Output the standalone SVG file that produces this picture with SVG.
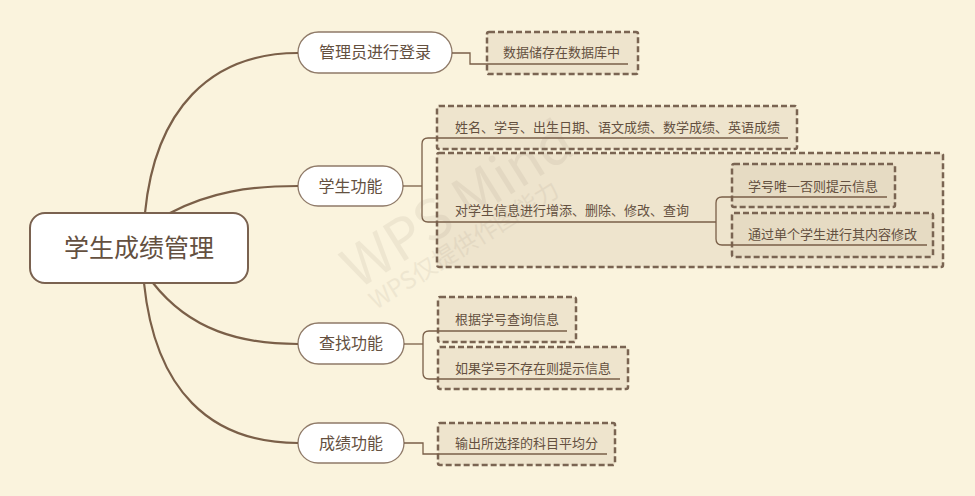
<svg xmlns="http://www.w3.org/2000/svg" width="975" height="496" viewBox="0 0 975 496">
<defs>
<style>
.bg{fill:#FAF3DD}
.root{fill:#fff;stroke:#7a6250;stroke-width:2}
.l1{fill:#fff;stroke:#8f7a68;stroke-width:1.3}
.box{fill:#EEE4CD;stroke:#7a6452;stroke-width:2.5;stroke-dasharray:6 3}
.sub{fill:#E6DBC3;stroke:#7a6452;stroke-width:2.5;stroke-dasharray:6 3}
.main{fill:none;stroke:#7a5f48;stroke-width:2.2}
.thin{fill:none;stroke:#7a5f48;stroke-width:1.3}
text{font-family:"Noto Sans CJK SC","Noto Sans",sans-serif;fill:#64503f}
.t0{font-size:25px;text-anchor:middle}
.t1{font-size:16px;text-anchor:middle}
.t2{font-size:13px}
.wm{fill:#8a7a6a;opacity:0.1}
</style>
</defs>
<rect class="bg" x="0" y="0" width="975" height="496"/>
<g id="root">
<rect class="root" x="30" y="213" width="218" height="70" rx="15"/>
<text class="t0" x="139" y="257">学生成绩管理</text>
</g>
<g id="n-admin">
<rect class="l1" x="298" y="32" width="154" height="41" rx="20.5"/>
<text class="t1" x="375" y="58">管理员进行登录</text>
</g>
<g id="n-db">
<rect class="box" x="487" y="32" width="151" height="42" rx="2"/>
<text class="t2" x="503" y="57">数据储存在数据库中</text>
</g>
<g id="n-student">
<rect class="l1" x="298" y="166" width="105" height="40" rx="20"/>
<text class="t1" x="350.5" y="192">学生功能</text>
</g>
<g id="n-fields">
<rect class="box" x="437" y="106" width="360" height="43" rx="2"/>
<text class="t2" x="455" y="132">姓名、学号、出生日期、语文成绩、数学成绩、英语成绩</text>
</g>
<g id="n-crud">
<rect class="box" x="437" y="153" width="506" height="114" rx="2"/>
<text class="t2" x="455" y="215">对学生信息进行增添、删除、修改、查询</text>
</g>
<g id="n-unique">
<rect class="sub" x="732" y="164" width="163" height="43" rx="2"/>
<text class="t2" x="748" y="191">学号唯一否则提示信息</text>
</g>
<g id="n-modify">
<rect class="sub" x="732" y="213" width="201" height="44" rx="2"/>
<text class="t2" x="748" y="239">通过单个学生进行其内容修改</text>
</g>
<g id="n-search">
<rect class="l1" x="298" y="323" width="106" height="41" rx="20.5"/>
<text class="t1" x="351" y="349">查找功能</text>
</g>
<g id="n-query">
<rect class="box" x="438" y="297" width="138" height="45" rx="2"/>
<text class="t2" x="455" y="324">根据学号查询信息</text>
</g>
<g id="n-notexist">
<rect class="box" x="438" y="347" width="190" height="42" rx="2"/>
<text class="t2" x="455" y="373">如果学号不存在则提示信息</text>
</g>
<g id="n-score">
<rect class="l1" x="298" y="423" width="106" height="40" rx="20"/>
<text class="t1" x="351" y="449">成绩功能</text>
</g>
<g id="n-avg">
<rect class="box" x="438" y="423" width="177" height="42" rx="2"/>
<text class="t2" x="455" y="448">输出所选择的科目平均分</text>
</g>
<g id="connectors">
<path class="main" d="M145,213 C155,110 210,53 298,53"/>
<path class="main" d="M170,213 C210,192 250,186 298,186"/>
<path class="main" d="M153,283 C190,330 240,344 298,344"/>
<path class="main" d="M144,283 C155,390 210,443 298,443"/>
<path class="thin" d="M452,53 H470 V64 H628"/>
<path class="thin" d="M403,186 H422"/>
<path class="thin" d="M788,138 H428 Q422,138 422,144 V216 Q422,222 428,222 H716"/>
<path class="thin" d="M887,197 H722 Q716,197 716,203 V239 Q716,245 722,245 H927"/>
<path class="thin" d="M404,344 H423"/>
<path class="thin" d="M567,331 H429 Q423,331 423,337 V373 Q423,379 429,379 H620"/>
<path class="thin" d="M404,443 H423 V454 H607"/>
</g>
<g id="watermark">
<text class="wm" x="358" y="290" font-size="56" transform="rotate(-32 358 290)">WPS Mind</text>
<text class="wm" x="376" y="310" font-size="24" transform="rotate(-32 376 310)">WPS仅提供作图能力</text>
</g>
</svg>
